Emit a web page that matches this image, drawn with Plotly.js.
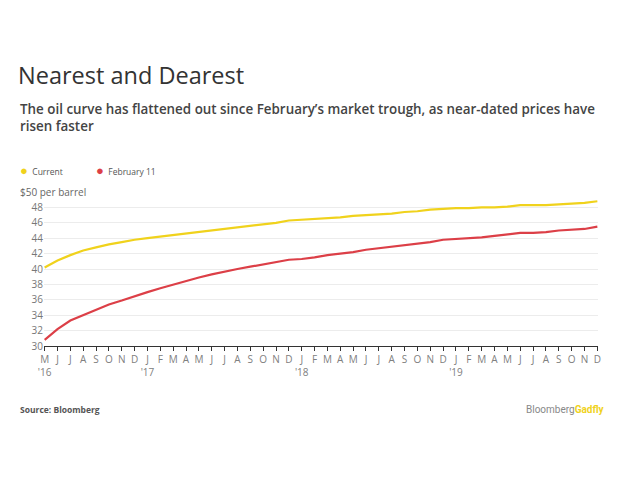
<!DOCTYPE html>
<html>
<head>
<meta charset="utf-8">
<script src="https://cdn.plot.ly/plotly-3.0.1.min.js"></script>
<style>
  html, body { margin: 0; padding: 0; background: #ffffff; }
  #chart { width: 630px; height: 478px; }
</style>
</head>
<body>
<div id="chart"></div>
<script>
// Months from May 2016 to Dec 2019
const months = [
  "2016-05","2016-06","2016-07","2016-08","2016-09","2016-10","2016-11","2016-12",
  "2017-01","2017-02","2017-03","2017-04","2017-05","2017-06","2017-07","2017-08","2017-09","2017-10","2017-11","2017-12",
  "2018-01","2018-02","2018-03","2018-04","2018-05","2018-06","2018-07","2018-08","2018-09","2018-10","2018-11","2018-12",
  "2019-01","2019-02","2019-03","2019-04","2019-05","2019-06","2019-07","2019-08","2019-09","2019-10","2019-11","2019-12"
];
const monthLabels = [
  "M<br>'16","J","J","A","S","O","N","D",
  "J<br>'17","F","M","A","M","J","J","A","S","O","N","D",
  "J<br>'18","F","M","A","M","J","J","A","S","O","N","D",
  "J<br>'19","F","M","A","M","J","J","A","S","O","N","D"
];
const current = [
  40.2, 41.1, 41.8, 42.4, 42.8, 43.2, 43.5, 43.8,
  44.0, 44.2, 44.4, 44.6, 44.8, 45.0, 45.2, 45.4, 45.6, 45.8, 46.0, 46.3,
  46.4, 46.5, 46.6, 46.7, 46.9, 47.0, 47.1, 47.2, 47.4, 47.5, 47.7, 47.8,
  47.9, 47.9, 48.0, 48.0, 48.1, 48.3, 48.3, 48.3, 48.4, 48.5, 48.6, 48.8
];
const feb11 = [
  30.8, 32.2, 33.3, 34.0, 34.7, 35.4, 35.9, 36.5,
  37.0, 37.5, 38.0, 38.5, 38.9, 39.3, 39.7, 40.0, 40.3, 40.6, 40.9, 41.2,
  41.3, 41.5, 41.8, 42.0, 42.2, 42.5, 42.7, 42.9, 43.1, 43.3, 43.5, 43.8,
  43.9, 44.0, 44.1, 44.3, 44.5, 44.7, 44.7, 44.8, 45.0, 45.1, 45.2, 45.5
];
const yTicks = [30, 32, 34, 36, 38, 40, 42, 44, 46, 48, 50];
const yTickText = ["30","32","34","36","38","40","42","44","46","48",""];

const YELLOW = "#f0d21c";
const RED = "#dc3f47";
const FONT = "Roboto, 'Open Sans', sans-serif";
const WIDE = "'Open Sans', Roboto, sans-serif";

const traces = [
  { x: months, y: current, type: "scatter", mode: "lines", name: "Current",
    line: { color: YELLOW, width: 2.2 }, hoverinfo: "skip" },
  { x: months, y: feb11, type: "scatter", mode: "lines", name: "February 11",
    line: { color: RED, width: 2.2 }, hoverinfo: "skip" }
];

const layout = {
  width: 630, height: 478,
  paper_bgcolor: "#ffffff", plot_bgcolor: "#ffffff",
  margin: { l: 44, r: 32, t: 192, b: 132 },
  showlegend: false,
  font: { family: FONT, color: "#666666", size: 10 },
  title: {
    text: "Nearest and Dearest",
    font: { family: WIDE, size: 23.5, color: "#333333" },
    x: 18 / 630, xref: "container", xanchor: "left",
    y: 1 - 76 / 478, yref: "container", yanchor: "middle"
  },
  xaxis: {
    type: "category",
    categoryorder: "array", categoryarray: months,
    tickmode: "array", tickvals: months, ticktext: monthLabels,
    range: [-0.05, months.length - 1 + 0.05],
    showgrid: false, zeroline: false,
    showline: true, linecolor: "#333333", linewidth: 1.2,
    ticks: "outside", ticklen: 4, tickcolor: "#333333", tickwidth: 1,
    tickfont: { family: WIDE, size: 10, color: "#808080" },
    tickangle: 0, fixedrange: true
  },
  yaxis: {
    range: [30, 50],
    tickmode: "array", tickvals: yTicks, ticktext: yTickText,
    showgrid: true, gridcolor: "#ececec", gridwidth: 1,
    zeroline: false, showline: false, ticks: "",
    tickfont: { family: WIDE, size: 10, color: "#777777" },
    fixedrange: true
  },
  annotations: [
    { text: "The oil curve has flattened out since February’s market trough, as near-dated prices have<br>risen faster",
      xref: "paper", yref: "paper", x: -26 / 554, y: 1 + (192 - 98) / 154,
      xanchor: "left", yanchor: "top", align: "left", showarrow: false,
      font: { family: WIDE, size: 13.4, color: "#444444", weight: 600 } },
    { text: "<span style='color:" + YELLOW + ";font-size:13px'>●</span>  Current",
      xref: "paper", yref: "paper", x: -26 / 554, y: 1 + (192 - 170) / 154,
      xanchor: "left", yanchor: "middle", showarrow: false,
      font: { family: WIDE, size: 8.5, color: "#555555" } },
    { text: "<span style='color:" + RED + ";font-size:13px'>●</span>  February 11",
      xref: "paper", yref: "paper", x: 50 / 554, y: 1 + (192 - 170) / 154,
      xanchor: "left", yanchor: "middle", showarrow: false,
      font: { family: WIDE, size: 8.5, color: "#555555" } },
    { text: "$50 per barrel",
      xref: "paper", yref: "y", x: -26 / 554, y: 50,
      xanchor: "left", yanchor: "middle", showarrow: false, bgcolor: "#ffffff",
      font: { family: WIDE, size: 10, color: "#666666" } },
    { text: "<b>Source: Bloomberg</b>",
      xref: "paper", yref: "paper", x: -26 / 554, y: -(409 - 346) / 154,
      xanchor: "left", yanchor: "middle", showarrow: false,
      font: { family: WIDE, size: 8.5, color: "#555555" } },
    { text: "Bloomberg<span style='color:" + YELLOW + "'><b>Gadfly</b></span>",
      xref: "paper", yref: "paper", x: 1 + 9 / 554, y: -(409 - 346) / 154,
      xanchor: "right", yanchor: "middle", showarrow: false,
      font: { family: FONT, size: 10, color: "#888888" } }
  ]
};

Plotly.newPlot("chart", traces, layout, { displayModeBar: false, staticPlot: true });
</script>
</body>
</html>
